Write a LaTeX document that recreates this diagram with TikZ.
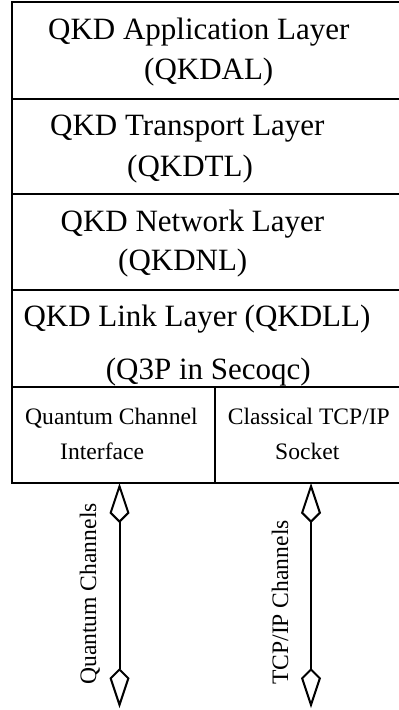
\documentclass[tikz,border=0pt]{standalone}
\usepackage{fontspec}
\setmainfont{Liberation Serif}
\usetikzlibrary{arrows.meta}
\begin{document}
\begin{tikzpicture}[x=1pt,y=-1pt,
  big/.style={inner sep=0pt,anchor=base west,font=\fontsize{31}{37}\selectfont},
  small/.style={inner sep=0pt,anchor=base west,font=\fontsize{23.6}{28}\selectfont},
  layer/.style={draw,line width=1.3pt},
  chan/.style={line width=2pt,{Kite[open,length=40pt,width=20pt,inset=10pt]}-{Kite[open,length=40pt,width=20pt,inset=10pt]}}]
\useasboundingbox (0,0) rectangle (399,710);
\fill[white] (0,0) rectangle (399,710);
% layers
\draw[layer] (12,2) rectangle (402,99);
\draw[layer] (12,99) rectangle (402,194);
\draw[layer] (12,194) rectangle (402,290);
\draw[layer] (12,290) rectangle (402,387);
\draw[layer] (12,387) rectangle (215,483);
\draw[layer] (215,387) rectangle (402,483);
% texts
\node[big] (al1) at (48,39.5) {QKD Application Layer};
\node[big] (al2) at (144,79) {(QKDAL)};
\node[big] (tl1) at (50,135) {QKD Transport Layer};
\node[big] (tl2) at (127,176) {(QKDTL)};
\node[big] (nl1) at (60.5,231) {QKD Network Layer};
\node[big] (nl2) at (118,270) {(QKDNL)};
\node[big] (ll1) at (23.3,326) {QKD Link Layer (QKDLL)};
\node[big] (ll2) at (105.7,379) {(Q3P in Secoqc)};
\node[small] (qc1) at (25,424) {Quantum Channel};
\node[small] (qc2) at (60,459.5) {Interface};
\node[small] (cs1) at (227.7,424) {Classical TCP/IP};
\node[small] (cs2) at (275,459.5) {Socket};
% channels
\coordinate (qa) at (119.5,483);
\coordinate (qb) at (119.5,708);
\coordinate (ta) at (311,483);
\coordinate (tb) at (311,708);
\draw[chan] (qa) -- (qb);
\draw[chan] (ta) -- (tb);
\node[small,rotate=90] (qlab) at (96,685) {Quantum Channels};
\node[small,rotate=90] (tlab) at (288,685) {TCP/IP Channels};
\end{tikzpicture}
\end{document}
